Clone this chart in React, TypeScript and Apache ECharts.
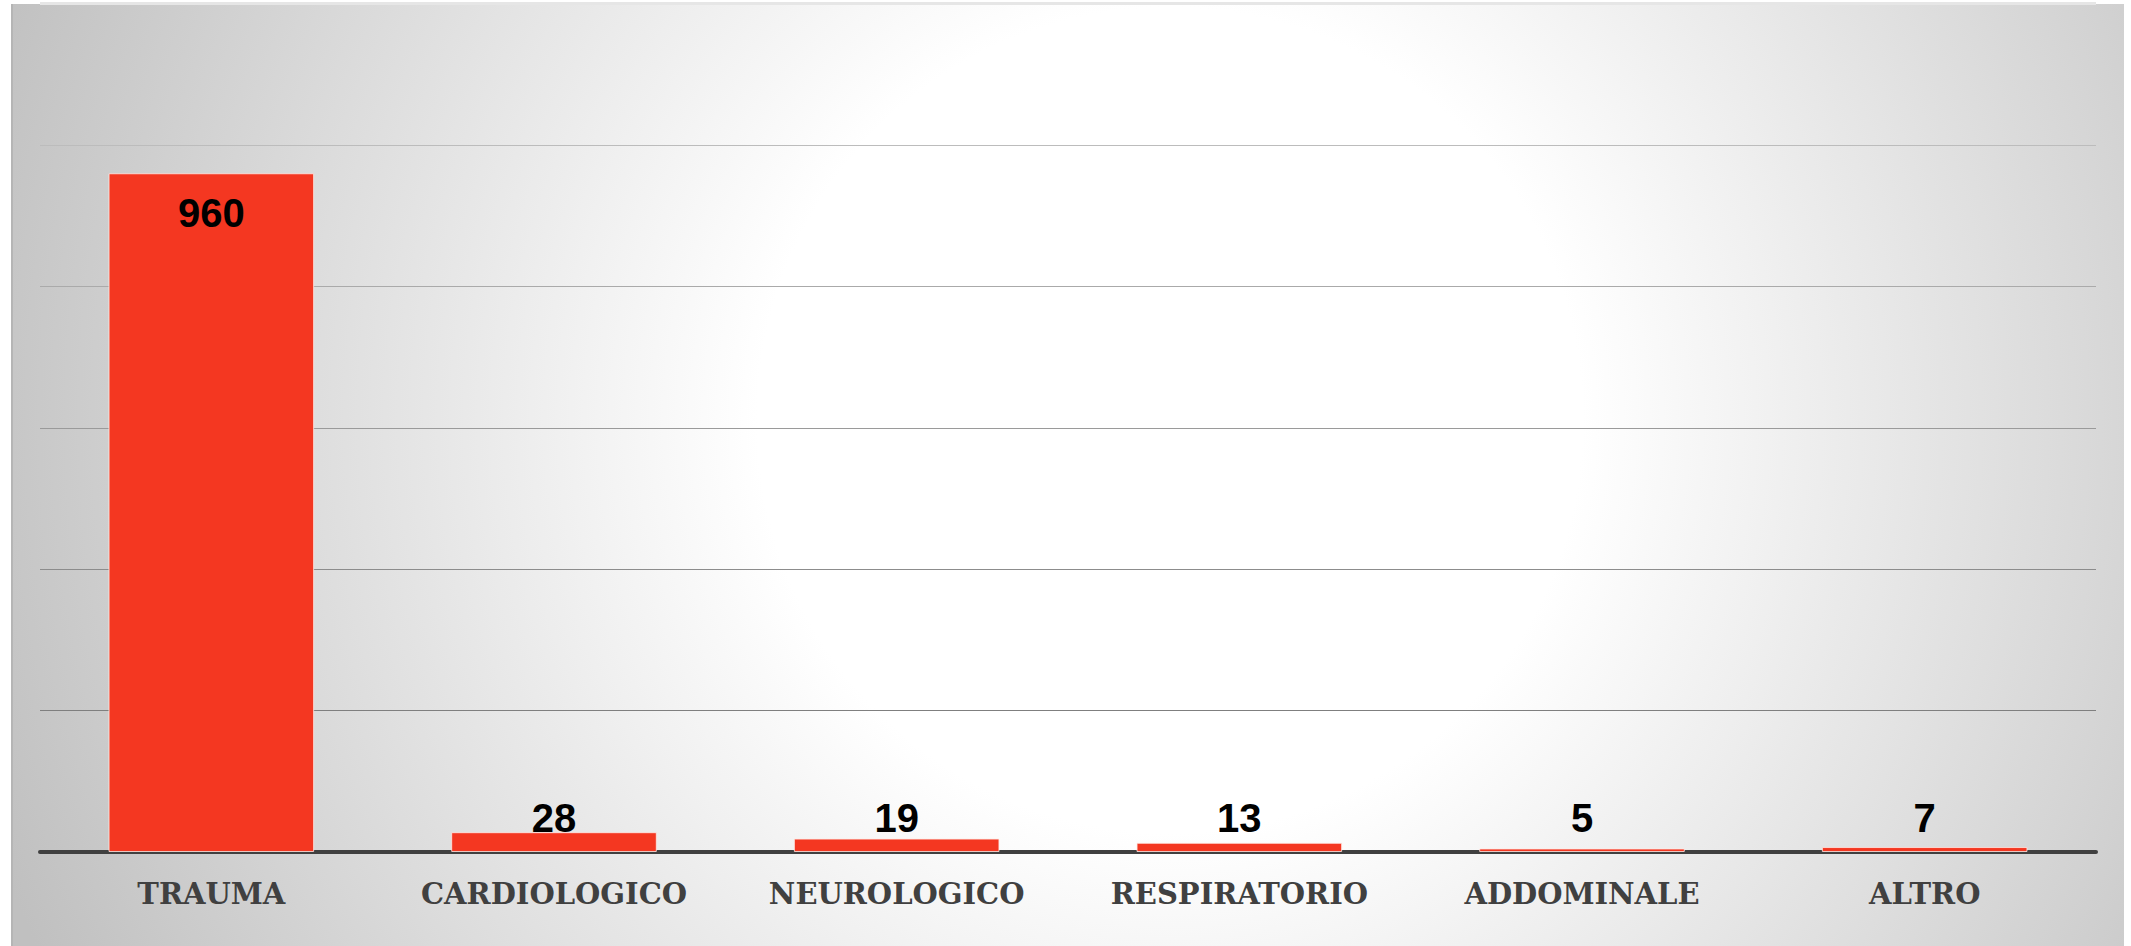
import React, { useEffect, useRef } from "react";
import * as echarts from "echarts";

const categories = ["TRAUMA", "CARDIOLOGICO", "NEUROLOGICO", "RESPIRATORIO", "ADDOMINALE", "ALTRO"];
const values = [960, 28, 19, 13, 5, 7];
const yMin = 0;
const yMax = 1000;
const yInterval = 200;

export default function App() {
  const ref = useRef<HTMLDivElement>(null);
  useEffect(() => {
    if (!ref.current) return;
    const chart = echarts.init(ref.current, null, { renderer: "svg" });
    const bigIndex = values.indexOf(Math.max(...values));
    const smallMax = Math.max(...values.filter((_, i) => i !== bigIndex));
    const buildData = (dist: number[]) =>
      values.map((v, i) =>
        i === bigIndex
          ? { value: v, label: { position: "insideTop", distance: 20 } }
          : { value: v, label: { position: "top", distance: dist[i] } }
      );
    const option: any = {
      animation: false,
      backgroundColor: "#ffffff",
      graphic: [
        {
          type: "rect",
          z: -10,
          silent: true,
          shape: { x: 11, y: 4, width: 2113, height: 942 },
          style: {
            fill: {
              type: "radial",
              x: 1170,
              y: 420,
              r: 1250,
              global: true,
              colorStops: [
                { offset: 0, color: "#ffffff" },
                { offset: 0.33, color: "#ffffff" },
                { offset: 1, color: "#c0c0c0" },
              ],
            },
          },
        },
        {
          type: "rect",
          z: -9,
          silent: true,
          shape: { x: 40, y: 2, width: 2056, height: 3 },
          style: { fill: "#e6e6e6" },
        },
        {
          type: "rect",
          z: -9,
          silent: true,
          shape: { x: 11, y: 4, width: 2, height: 942 },
          style: { fill: "#b5b5b5" },
        },
      ],
      grid: { left: 40, right: 35, top: 145, bottom: 94, containLabel: false },
      xAxis: {
        type: "category",
        data: categories,
        axisLine: { show: true, lineStyle: { color: "#404040", width: 4 } },
        axisTick: { show: false },
        axisLabel: {
          interval: 0,
          color: "#404040",
          fontFamily: "DejaVu Serif",
          fontWeight: "bold",
          fontSize: 29,
          lineHeight: 30,
          margin: 27,
        },
      },
      yAxis: {
        type: "value",
        min: yMin,
        max: yMax,
        interval: yInterval,
        axisLabel: { show: false },
        axisLine: { show: false },
        axisTick: { show: false },
        splitLine: {
          show: true,
          lineStyle: {
            color: ["#777777", "#7f7f7f", "#8c8c8c", "#9a9a9a", "#aaaaaa", "#bcbcbc"],
            width: 1,
          },
        },
      },
      series: [
        {
          type: "bar",
          data: buildData(values.map(() => 0)),
          barWidth: "60%",
          itemStyle: {
            color: "#f43721",
            borderColor: "rgba(255,235,230,0.8)",
            borderWidth: 1,
          },
          label: {
            show: true,
            color: "#000000",
            fontFamily: "Liberation Sans",
            fontWeight: "bold",
            fontSize: 40,
            lineHeight: 40,
          },
        },
      ],
    };
    chart.setOption(option);
    // Place the small-bar labels at a common level (as in the reference), using the axis scale
    const yLevel = chart.convertToPixel({ yAxisIndex: 0 }, smallMax) as number;
    const dist = values.map((v) => {
      const yv = chart.convertToPixel({ yAxisIndex: 0 }, v) as number;
      return yv - yLevel - 6;
    });
    chart.setOption({ series: [{ data: buildData(dist) }] });
    return () => chart.dispose();
  }, []);
  return (
    <div
      ref={ref}
      style={{ position: "fixed", left: 0, top: 0, width: 2131, height: 946 }}
    />
  );
}
